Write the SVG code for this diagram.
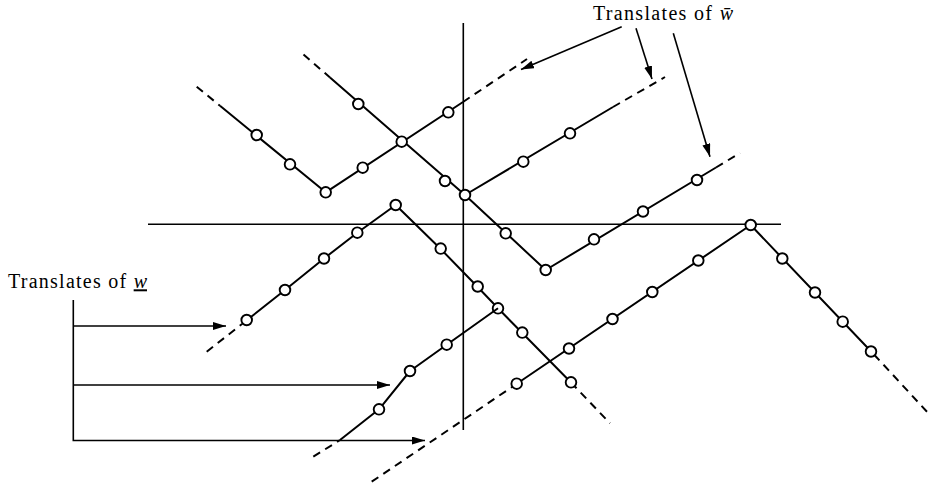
<svg xmlns="http://www.w3.org/2000/svg" width="932" height="489" viewBox="0 0 932 489">
<style>
.ln{fill:none;stroke:#000;stroke-width:2;stroke-linejoin:round}
.dsh{fill:none;stroke:#000;stroke-width:2;stroke-dasharray:8 6}
.ax{fill:none;stroke:#000;stroke-width:1.6}
.ar{fill:none;stroke:#000;stroke-width:1.6;marker-end:url(#ah)}
.nd{fill:#fff;stroke:#000;stroke-width:1.9}
.lbl{font-family:"Liberation Serif","Times New Roman",serif;font-size:20px;fill:#000}
</style>
<defs>
<marker id="ah" markerUnits="userSpaceOnUse" markerWidth="14" markerHeight="9" refX="13" refY="4" orient="auto">
<path d="M0,0 L13,4 L0,8 z" fill="#000"/>
</marker>
<circle id="c" r="5.3" class="nd"/>
</defs>
<rect width="932" height="489" fill="#fff"/>

<g id="axes">
<line class="ax" x1="463.3" y1="23" x2="463.3" y2="430"/>
<line class="ax" x1="148" y1="224.3" x2="781" y2="224.3"/>
</g>

<g id="chainA">
<path class="dsh" d="M196.7,86.7 L220,105.8"/>
<path class="ln" d="M220,105.8 L325.7,192.3 L463,102"/>
<path class="dsh" d="M463,102 L527,59"/>
<use href="#c" x="256.7" y="135"/>
<use href="#c" x="290" y="164.3"/>
<use href="#c" x="325.7" y="192.3"/>
<use href="#c" x="362.7" y="167.7"/>
<use href="#c" x="448.3" y="112.3"/>
</g>

<g id="chainB">
<path class="dsh" d="M303.5,54.5 L330,77.5"/>
<path class="ln" d="M330,77.5 L465,195 L613,107"/>
<path class="dsh" d="M613,107 L665,77"/>
<path class="ln" d="M465,195 L545.7,270 L716,167.5"/>
<path class="dsh" d="M716,167.5 L740,153"/>
<use href="#c" x="358.3" y="104"/>
<use href="#c" x="401.7" y="141.7"/>
<use href="#c" x="445" y="181"/>
<use href="#c" x="465" y="195"/>
<use href="#c" x="523.3" y="161.7"/>
<use href="#c" x="570" y="133.3"/>
<use href="#c" x="505.7" y="233.3"/>
<use href="#c" x="545.7" y="270"/>
<use href="#c" x="594" y="239.3"/>
<use href="#c" x="643" y="211.5"/>
<use href="#c" x="697" y="180"/>
</g>

<g id="chainC">
<path class="dsh" d="M206.7,351.7 L242,324"/>
<path class="ln" d="M242,324 L285,290 L324,258.5 L357.3,232.7 L395.7,205 L440.7,249 L477.7,287 L498,308.3 L522.3,333 L571,382.5"/>
<path class="dsh" d="M571,382.5 L610,423.3"/>
<use href="#c" x="246.7" y="320"/>
<use href="#c" x="285" y="290"/>
<use href="#c" x="324" y="258.5"/>
<use href="#c" x="357.3" y="232.7"/>
<use href="#c" x="395.7" y="205"/>
<use href="#c" x="440.7" y="248.6"/>
<use href="#c" x="477.7" y="286.5"/>
<use href="#c" x="498" y="308.3"/>
<use href="#c" x="522.3" y="332.6"/>
<use href="#c" x="571" y="382.3"/>
</g>

<g id="chainD">
<path class="dsh" d="M313.3,456.7 L340,440"/>
<path class="ln" d="M340,440 L379,409.3 L410,371 L446.7,344.7 L498,308.3"/>
<use href="#c" x="379" y="409.3"/>
<use href="#c" x="410" y="371"/>
<use href="#c" x="446.7" y="344.7"/>
</g>

<g id="chainE">
<path class="dsh" d="M371.7,481.7 L512,387"/>
<path class="ln" d="M512,387 L750.7,225 L874,354.5"/>
<path class="dsh" d="M874,354.5 L930,415"/>
<use href="#c" x="516.7" y="383.7"/>
<use href="#c" x="569" y="348.5"/>
<use href="#c" x="612.5" y="319"/>
<use href="#c" x="652.3" y="292"/>
<use href="#c" x="698.3" y="260.5"/>
<use href="#c" x="750.7" y="225"/>
<use href="#c" x="782.3" y="258.5"/>
<use href="#c" x="815" y="292.5"/>
<use href="#c" x="842.7" y="321.7"/>
<use href="#c" x="871" y="351.5"/>
</g>

<g id="connectors">
<line class="ar" x1="621.7" y1="26.7" x2="521" y2="69.5"/>
<line class="ar" x1="636" y1="28.3" x2="652" y2="79"/>
<line class="ar" x1="673.3" y1="33.3" x2="710" y2="156.7"/>
<path class="ar" d="M73.3,300 L73.3,440.5 L425,440.5"/>
<line class="ar" x1="73.3" y1="326" x2="226" y2="326"/>
<line class="ar" x1="73.3" y1="385" x2="390" y2="385"/>
</g>

<g id="label-wbar">
<text class="lbl" x="593" y="20" textLength="140" lengthAdjust="spacing">Translates of <tspan font-style="italic">w̄</tspan></text>
</g>
<g id="label-w">
<text class="lbl" x="8" y="288.3" textLength="139" lengthAdjust="spacing">Translates of <tspan font-style="italic" text-decoration="underline">w</tspan></text>
</g>
</svg>
